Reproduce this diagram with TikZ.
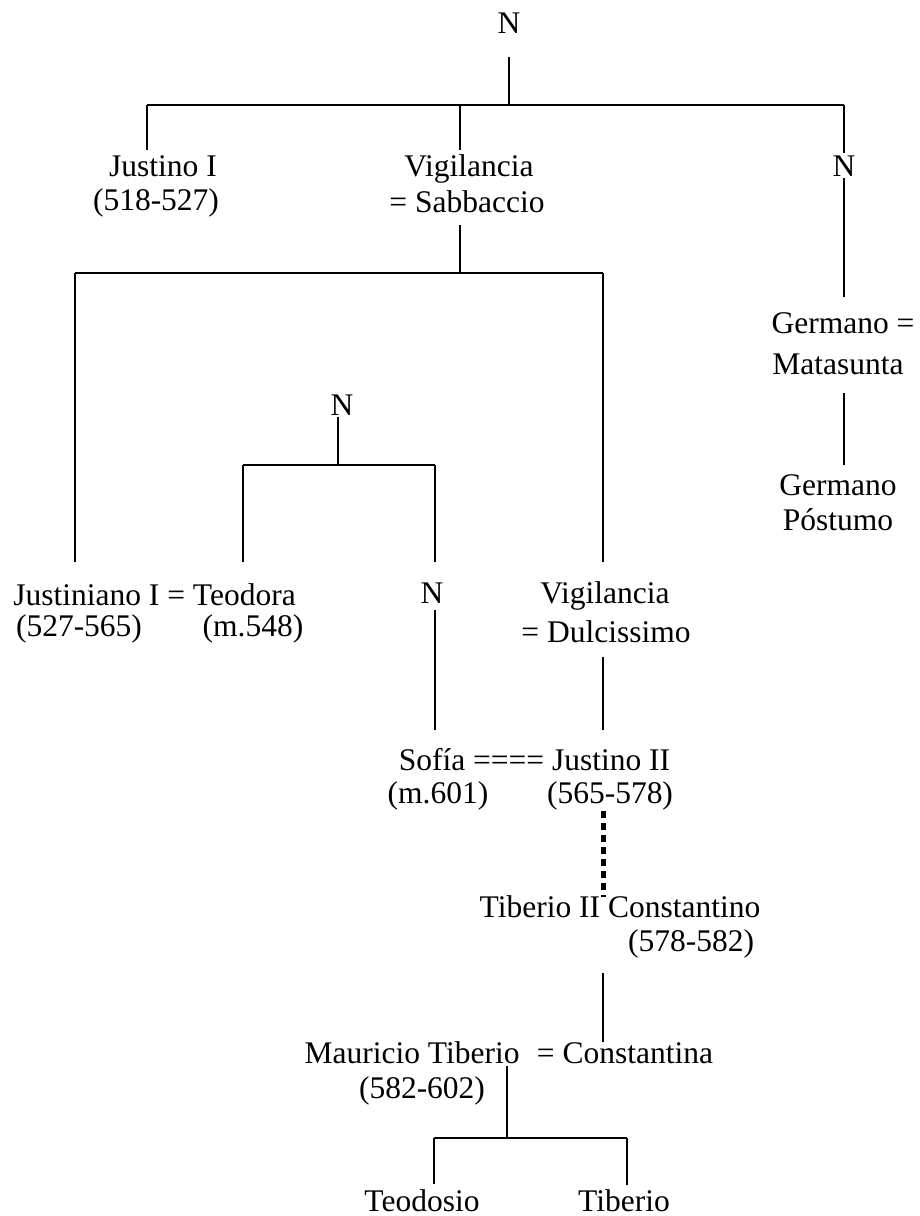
\documentclass[tikz,border=0pt]{standalone}
\usepackage{fontspec}
\setmainfont{Liberation Serif}
\usepackage{tikz}
\tikzset{
  myline/.style={
    draw=black,
    line width=1.8pt,
  },
  mydotted/.style={
    draw=black,
    line width=5pt,
    dash pattern=on 7pt off 5pt,
  },
  myname/.style={
    shape=rectangle,
    anchor=base,
    inner sep=0pt,
    text height=26pt,
    text depth=8pt,
    font=\fontsize{31.5}{36}\selectfont
  },
}

\begin{document}
\begin{tikzpicture}[x=1pt,y=-1pt]
    \useasboundingbox (0,0) rectangle (919,1216);

    % first generation
    \node[myname, text depth=24pt] (ntop) at (509,33) {N};
    \node[myname] (justinoI) at (163,176) {Justino I};
    \node[myname] (justinoIdate) at (156,210) {(518-527)};
    \node[myname] (vigS) at (469,176) {Vigilancia};
    \node[myname, text depth=13pt] (sabbaccio) at (467,212) {= Sabbaccio};
    \node[myname, text height=23pt, text depth=2pt] (nright) at (844,176) {N};

    \node[myname, text height=36pt] (germano) at (843,333) {Germano =};
    \node[myname, text depth=19pt] (matasunta) at (838,374) {Matasunta};
    \node[myname, text height=30pt] (postumoA) at (838,495) {Germano};
    \node[myname] (postumo) at (838,530) {Póstumo};

    % second generation
    \node[myname, text depth=2pt] (nmid) at (342,415) {N};
    \node[myname, text height=43pt] (justiniano) at (154.5,605) {Justiniano I = Teodora};
    \node[myname] (justinianodate) at (79,636) {(527-565)};
    \node[myname] (teodoradate) at (253,636) {(m.548)};
    \node[myname, text height=41pt, text depth=7pt] (nN) at (432,603) {N};
    \node[myname, text height=41pt] (vigD) at (605,603) {Vigilancia};
    \node[myname, text depth=15pt] (dulcissimo) at (606,642) {= Dulcissimo};

    % third generation
    \node[myname, text height=40pt] (sofia) at (534.5,770) {Sofía ==== Justino II};
    \node[myname] (sofiadate) at (438,803) {(m.601)};
    \node[myname] (justinoIIdate) at (610,803) {(565-578)};
    \node[myname, text height=20pt] (tiberioII) at (620,917) {Tiberio II Constantino};
    \node[myname, text depth=22pt] (tiberiodate) at (691,951) {(578-582)};
    \node[myname, text depth=3pt] (mauricio) at (412,1063) {Mauricio Tiberio};
    \node[myname, text height=21pt] (constantina) at (625,1063) {= Constantina};
    \node[myname] (mauriciodate) at (422,1098) {(582-602)};
    \node[myname, text height=27pt, text depth=1pt] (teodosio) at (422,1211) {Teodosio};
    \node[myname, text height=26pt, text depth=1pt] (tiberio) at (624,1211) {Tiberio};

    % bars
    \coordinate (topbar) at (509,105);
    \coordinate (barA) at (147,105);
    \coordinate (barV) at (460,105);
    \coordinate (barB) at (844,105);
    \coordinate (midbar) at (460,273);
    \coordinate (midL) at (75,273);
    \coordinate (midR) at (603,273);
    \coordinate (nbar) at (338,465);
    \coordinate (nbarL) at (243,465);
    \coordinate (nbarR) at (435,465);
    \coordinate (botbar) at (507,1138);
    \coordinate (botL) at (434,1138);
    \coordinate (botR) at (627,1138);

    \draw[myline] (ntop) -- (topbar);
    \draw[myline] (barA) -- (barB);
    \draw[myline] (barA) -- (barA |- justinoI.north);
    \draw[myline] (barV) -- (barV |- vigS.north);
    \draw[myline] (barB) -- (nright.north);
    \draw[myline] (nright.south) -- (nright.south |- germano.north);
    \draw[myline] (matasunta.south -| nright) -- (postumoA.north -| nright);

    \draw[myline] (sabbaccio.south -| midbar) -- (midbar);
    \draw[myline] (midL) -- (midR);
    \draw[myline] (midL) -- (midL |- justiniano.north);
    \draw[myline] (midR) -- (midR |- vigD.north);

    \draw[myline] (nmid.south -| nbar) -- (nbar);
    \draw[myline] (nbarL) -- (nbarR);
    \draw[myline] (nbarL) -- (nbarL |- justiniano.north);
    \draw[myline] (nbarR) -- (nbarR |- nN.north);

    \draw[myline] (nN.south -| nbarR) -- (nbarR |- sofia.north);
    \draw[myline] (dulcissimo.south -| midR) -- (midR |- sofia.north);
    \draw[mydotted] (justinoIIdate.south -| midR) -- (midR |- tiberioII.north);
    \draw[myline] (tiberiodate.south -| midR) -- (midR |- constantina.north);

    \draw[myline] (mauricio.south -| botbar) -- (botbar);
    \draw[myline] (botL) -- (botR);
    \draw[myline] (botL) -- (botL |- teodosio.north);
    \draw[myline] (botR) -- (botR |- tiberio.north);
  \end{tikzpicture}
\end{document}
